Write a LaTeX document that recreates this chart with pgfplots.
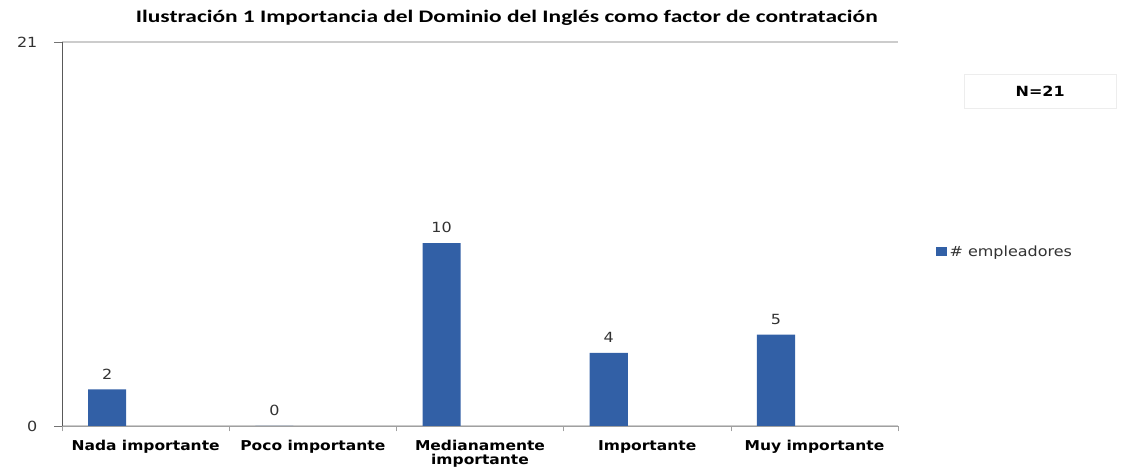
\documentclass[border=0pt]{standalone}
\usepackage{pgfplots}
\pgfplotsset{compat=1.18}
\usepackage{graphicx}
\usepackage{fontspec}
\setmainfont{DejaVu Sans}
\newfontfamily\titlefont{Carlito}
\definecolor{bardark}{RGB}{32,72,132}
\definecolor{barfill}{RGB}{50,96,166}
\definecolor{axgray}{RGB}{160,160,160}
\definecolor{lblgray}{RGB}{50,50,50}
\newcommand{\sx}[1]{\scalebox{1.14}[1]{#1}}
\begin{document}
\begin{tikzpicture}
\begin{axis}[
  scale only axis,
  width=627pt, height=288pt,
  xmin=-0.5, xmax=4.5,
  ymin=0, ymax=21,
  axis x line=bottom, axis y line=left,
  axis line style={-},
  x axis line style={axgray},
  y axis line style={black!65},
  ytick={0,21},
  yticklabel={\sx{\pgfmathprintnumber[assume math mode=true]{\tick}}},
  yticklabel style={font=\fontsize{10.5}{12}\selectfont, text=lblgray, xshift=-9pt},
  ymajorgrids,
  grid style={black!20, line width=1.3pt},
  tick align=outside,
  major tick length=6pt,
  xtick={0,1,2,3,4},
  xticklabels={\sx{Nada importante}, \sx{Poco importante}, \sx{\shortstack{Medianamente\\importante}}, \sx{Importante}, \sx{Muy importante}},
  xticklabel style={font=\fontsize{10.2}{11}\selectfont\bfseries, align=center, text=black, yshift=-1pt, anchor=north, text depth=0pt},
  typeset ticklabels with strut,
  x tick style={draw=none},
  extra x ticks={-0.5,0.5,1.5,2.5,3.5,4.5},
  extra x tick labels={},
  extra x tick style={x tick style={draw=axgray}, grid=none, major tick length=4pt},
  y tick style={black!55},
  ybar, bar width=0.228, bar shift=-0.23,
  nodes near coords={\sx{\pgfmathprintnumber[assume math mode=true]{\pgfplotspointmeta}}},
  nodes near coords style={font=\fontsize{10.5}{12}\selectfont, text=lblgray, yshift=4pt},
  clip=false,
  legend style={at={([xshift=28pt]1,0.453)}, anchor=west, draw=none, font=\fontsize{10.5}{12}\selectfont, text=lblgray, legend cell align=left, inner xsep=0pt},
  legend image code/.code={\fill[barfill] (0cm,-0.1cm) rectangle (0.3cm,0.12cm);},
]
\addplot[draw=none, fill=barfill]
  coordinates {(0,2) (1,0) (2,10) (3,4) (4,5)};
\addlegendentry{\sx{\# empleadores}}
\node[font=\titlefont\bfseries\fontsize{13.2}{15}\selectfont] at (rel axis cs:0.532,1.0625) {\scalebox{1.33}[1]{Ilustración 1 Importancia del Dominio del Inglés como factor de contratación}};
\node[draw=black!7, minimum width=114pt, minimum height=26pt, font=\bfseries\fontsize{10.5}{12}\selectfont] at (rel axis cs:1.170,0.872) {\sx{N=21}};
\path (rel axis cs:-0.0742,1.1094) (rel axis cs:1.2751,-0.1198);
\end{axis}
\end{tikzpicture}
\end{document}
